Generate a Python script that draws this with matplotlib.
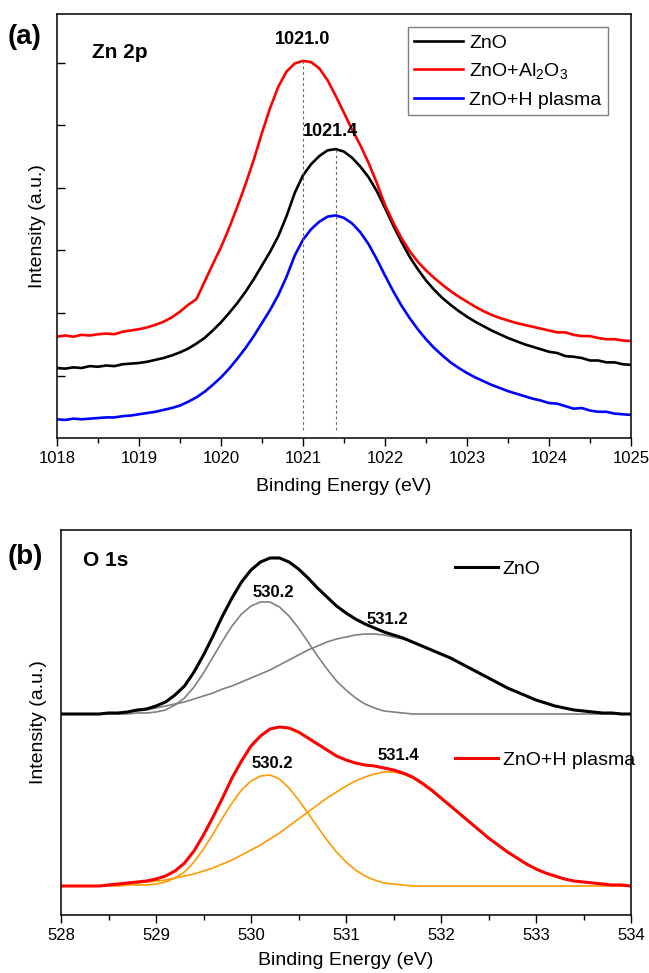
import numpy as np
import matplotlib.pyplot as plt
from matplotlib.ticker import MultipleLocator

plt.rcParams['font.family'] = ['Liberation Sans', 'DejaVu Sans']
plt.rcParams['mathtext.default'] = 'regular'

# ---- (a) Zn 2p spectra (a.u.)
be_zn = np.round(np.arange(1018.0, 1025.05, 0.1), 1)
zno_zn = [1.12, 1.11, 1.13, 1.12, 1.15, 1.14, 1.16, 1.15, 1.18, 1.19,
          1.20, 1.22, 1.25, 1.28, 1.32, 1.37, 1.43, 1.51, 1.60, 1.72,
          1.85, 2.00, 2.16, 2.34, 2.54, 2.76, 2.98, 3.23, 3.55, 3.92,
          4.20, 4.38, 4.51, 4.60, 4.62, 4.58, 4.48, 4.34, 4.17, 3.95,
          3.68, 3.40, 3.14, 2.90, 2.70, 2.52, 2.37, 2.24, 2.13, 2.03,
          1.94, 1.86, 1.79, 1.72, 1.66, 1.60, 1.55, 1.50, 1.46, 1.42,
          1.38, 1.36, 1.31, 1.30, 1.28, 1.24, 1.24, 1.21, 1.21, 1.18,
          1.17]
al2o3_zn = [1.62, 1.64, 1.62, 1.65, 1.64, 1.66, 1.67, 1.66, 1.70, 1.72,
            1.74, 1.77, 1.81, 1.86, 1.93, 2.02, 2.13, 2.22, 2.50, 2.78,
            3.05, 3.36, 3.70, 4.06, 4.45, 4.88, 5.28, 5.62, 5.86, 5.99,
            6.03, 6.01, 5.91, 5.72, 5.47, 5.20, 4.93, 4.68, 4.40, 4.08,
            3.73, 3.45, 3.20, 2.99, 2.82, 2.68, 2.56, 2.45, 2.35, 2.26,
            2.18, 2.10, 2.03, 1.97, 1.92, 1.88, 1.84, 1.81, 1.78, 1.75,
            1.72, 1.69, 1.69, 1.65, 1.63, 1.63, 1.60, 1.58, 1.58, 1.56,
            1.55]
hpl_zn = [0.30, 0.29, 0.31, 0.30, 0.31, 0.32, 0.33, 0.33, 0.35, 0.36,
          0.38, 0.40, 0.42, 0.45, 0.48, 0.52, 0.58, 0.65, 0.74, 0.85,
          0.97, 1.11, 1.27, 1.44, 1.63, 1.84, 2.05, 2.29, 2.58, 2.92,
          3.17, 3.34, 3.46, 3.54, 3.56, 3.52, 3.43, 3.29, 3.10, 2.86,
          2.60, 2.35, 2.12, 1.92, 1.74, 1.58, 1.44, 1.32, 1.21, 1.12,
          1.04, 0.97, 0.91, 0.85, 0.80, 0.75, 0.71, 0.67, 0.63, 0.60,
          0.56, 0.55, 0.51, 0.47, 0.48, 0.44, 0.42, 0.42, 0.39, 0.38,
          0.37]
zn_peaks = [1021.0, 1021.4]

# ---- (b) O 1s spectra and fitted components (a.u., above each baseline)
be_o = np.round(np.arange(528.0, 534.05, 0.1), 1)
zno_o = [0, 0, 0, 0, 0, 1, 1, 2, 4, 5,
         8, 12, 19, 28, 42, 59, 78, 98, 116, 132,
         144, 152, 156, 156, 152, 145, 136, 126, 117, 108,
         101, 95, 90, 86, 82, 79, 76, 72, 68, 64,
         60, 56, 51, 46, 41, 36, 31, 26, 22, 18,
         14, 11, 8, 6, 4, 3, 2, 1, 1, 0, 0]
zno_o_530 = [0, 0, 0, 0, 0, 0, 0, 0, 1, 1,
             2, 4, 9, 16, 27, 41, 57, 73, 88, 100,
             108, 112, 112, 107, 98, 86, 72, 58, 45, 33,
             24, 16, 10, 6, 3, 2, 1, 0, 0, 0,
             0, 0, 0, 0, 0, 0, 0, 0, 0, 0,
             0, 0, 0, 0, 0, 0, 0, 0, 0, 0, 0]
zno_o_531 = [0, 0, 0, 0, 0, 1, 1, 2, 3, 4,
             6, 8, 10, 12, 15, 18, 21, 25, 28, 32,
             36, 40, 44, 49, 54, 59, 64, 68, 72, 75,
             77, 79, 80, 80, 79, 77, 75, 72, 68, 64,
             60, 56, 51, 46, 41, 36, 31, 26, 22, 18,
             14, 11, 8, 6, 4, 3, 2, 1, 1, 0, 0]
hpl_o = [0, 0, 0, 0, 0, 1, 2, 3, 4, 5,
         7, 10, 15, 23, 35, 51, 69, 88, 108, 125,
         140, 150, 157, 159, 158, 154, 148, 142, 136, 130,
         126, 123, 121, 120, 118, 116, 113, 109, 103, 96,
         88, 80, 72, 64, 56, 48, 41, 34, 28, 22,
         17, 13, 10, 7, 5, 4, 3, 2, 1, 1, 0]
hpl_o_530 = [0, 0, 0, 0, 0, 0, 0, 1, 1, 1,
             2, 4, 8, 14, 24, 37, 52, 68, 83, 96,
             105, 110, 111, 107, 98, 86, 73, 59, 46, 34,
             24, 16, 10, 6, 3, 2, 1, 0, 0, 0,
             0, 0, 0, 0, 0, 0, 0, 0, 0, 0,
             0, 0, 0, 0, 0, 0, 0, 0, 0, 0, 0]
hpl_o_531 = [0, 0, 0, 0, 0, 1, 1, 2, 3, 4,
             5, 6, 8, 10, 12, 15, 18, 22, 26, 31,
             36, 41, 47, 53, 60, 67, 74, 81, 88, 94,
             100, 105, 109, 112, 114, 114, 112, 108, 102, 95,
             88, 80, 72, 64, 56, 48, 41, 34, 28, 22,
             17, 13, 10, 7, 5, 4, 3, 2, 1, 1, 0]

fig = plt.figure(figsize=(6.49, 9.73), dpi=100)
ax1 = fig.add_axes([0.0878, 0.5498, 0.8844, 0.4358])
ax2 = fig.add_axes([0.094, 0.0596, 0.8783, 0.3957])

# ---------------- panel (a)
ax1.plot(be_zn, zno_zn, color='black', lw=1.9, label='ZnO')
ax1.plot(be_zn, al2o3_zn, color='#ff0000', lw=1.9, label='ZnO+Al$_2$O$_3$')
ax1.plot(be_zn, hpl_zn, color='#0000ff', lw=1.9, label='ZnO+H plasma')
ax1.vlines(zn_peaks[0], 0.13, max(al2o3_zn), colors='#666666', lw=0.8,
           linestyles=(0, (2.5, 2.5)))
ax1.vlines(zn_peaks[1], 0.13, max(zno_zn), colors='#666666', lw=0.8,
           linestyles=(0, (2.5, 2.5)))
ax1.text(zn_peaks[0], 6.37, '1021.0', ha='center', va='center',
         fontsize=13, fontweight='bold')
ax1.text(1021.33, 4.9, '1021.4', ha='center', va='center',
         fontsize=13, fontweight='bold')
ax1.text(0.061, 0.91, 'Zn 2p', transform=ax1.transAxes, ha='left',
         va='center', fontsize=15, fontweight='bold')

ax1.set_xlim(1018, 1025)
ax1.set_ylim(0, 6.78)
ax1.xaxis.set_major_locator(MultipleLocator(1))
ax1.xaxis.set_minor_locator(MultipleLocator(0.5))
ax1.set_yticks([1, 2, 3, 4, 5, 6])
ax1.set_yticklabels([])
ax1.tick_params(axis='x', which='major', direction='out', length=6,
                width=1, labelsize=12, pad=3)
ax1.tick_params(axis='x', which='minor', direction='out', length=3.5, width=1)
ax1.tick_params(axis='y', direction='in', length=6, width=1)
ax1.set_xlabel('Binding Energy (eV)', fontsize=14)
ax1.set_ylabel('Intensity (a.u.)', fontsize=14)
ax1.xaxis.set_label_coords(0.5, -0.095)
ax1.yaxis.set_label_coords(-0.02, 0.5)

leg = ax1.legend(loc='upper right', bbox_to_anchor=(0.960, 0.969),
                 borderaxespad=0, fontsize=14, fancybox=False,
                 edgecolor='#7f7f7f', framealpha=1, borderpad=0.35,
                 labelspacing=0.5, handlelength=2.5, handletextpad=0.3)
leg.get_frame().set_linewidth(1.0)

# ---------------- panel (b)
off_zno, off_hpl = 201, 29
ax2.plot(be_o, np.array(zno_o_530) + off_zno, color='#808080', lw=1.2)
ax2.plot(be_o, np.array(zno_o_531) + off_zno, color='#808080', lw=1.2)
l_zno, = ax2.plot(be_o, np.array(zno_o) + off_zno, color='black', lw=2.2)
ax2.plot(be_o, np.array(hpl_o_530) + off_hpl, color='#ff9a00', lw=1.2)
ax2.plot(be_o, np.array(hpl_o_531) + off_hpl, color='#ff9a00', lw=1.2)
l_hpl, = ax2.plot(be_o, np.array(hpl_o) + off_hpl, color='#ff0000', lw=2.2)

ax2.text(530.23, 322, '530.2', ha='center', va='center', fontsize=12,
         fontweight='bold')
ax2.text(531.44, 295, '531.2', ha='center', va='center', fontsize=12,
         fontweight='bold')
ax2.text(530.22, 152, '530.2', ha='center', va='center', fontsize=12,
         fontweight='bold')
ax2.text(531.55, 160, '531.4', ha='center', va='center', fontsize=12,
         fontweight='bold')
ax2.text(0.039, 0.922, 'O 1s', transform=ax2.transAxes, ha='left',
         va='center', fontsize=15, fontweight='bold')

lg1 = ax2.legend([l_zno], ['ZnO'], loc='center left',
                 bbox_to_anchor=(0.691, 0.899), frameon=False, fontsize=14,
                 borderpad=0, borderaxespad=0, handlelength=2.2,
                 handletextpad=0.25)
ax2.add_artist(lg1)
ax2.legend([l_hpl], ['ZnO+H plasma'], loc='center left',
           bbox_to_anchor=(0.691, 0.403), frameon=False, fontsize=14,
           borderpad=0, borderaxespad=0, handlelength=2.2,
           handletextpad=0.25)

ax2.set_xlim(528, 534)
ax2.set_ylim(0, 385)
ax2.xaxis.set_major_locator(MultipleLocator(1))
ax2.xaxis.set_minor_locator(MultipleLocator(0.5))
ax2.set_yticks([])
ax2.tick_params(axis='x', which='major', direction='out', length=6,
                width=1, labelsize=12, pad=3)
ax2.tick_params(axis='x', which='minor', direction='out', length=3.5, width=1)
ax2.set_xlabel('Binding Energy (eV)', fontsize=14)
ax2.set_ylabel('Intensity (a.u.)', fontsize=14)
ax2.xaxis.set_label_coords(0.5, -0.096)
ax2.yaxis.set_label_coords(-0.025, 0.5)

for ax in (ax1, ax2):
    for s in ax.spines.values():
        s.set_linewidth(1.1)

fig.text(0.012, 0.962, '(a)', fontsize=20, fontweight='bold', va='center')
fig.text(0.011, 0.4275, '(b)', fontsize=20, fontweight='bold', va='center')

fig.savefig('out.png', dpi=100)
